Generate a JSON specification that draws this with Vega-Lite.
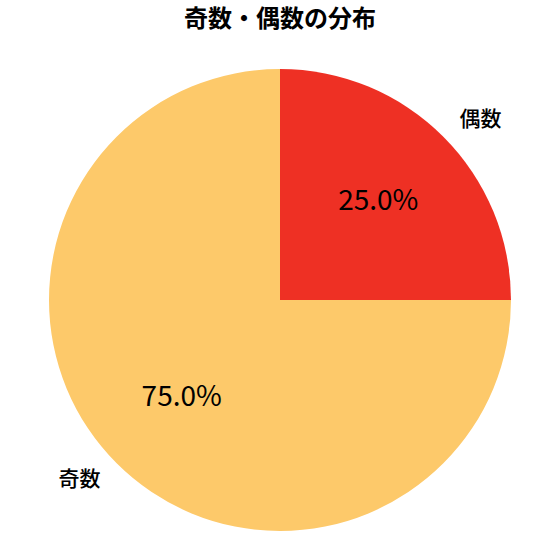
{
  "$schema": "https://vega.github.io/schema/vega-lite/v6.json",
  "width": 560,
  "height": 560,
  "autosize": {"type": "fit", "contains": "padding"},
  "padding": {"top": 8, "left": 0, "right": 0, "bottom": 0},
  "background": "white",
  "title": {
    "text": "奇数・偶数の分布",
    "font": "Noto Sans CJK JP",
    "fontSize": 24,
    "fontWeight": "bold",
    "color": "#000000",
    "anchor": "middle",
    "offset": 8
  },
  "data": {
    "values": [
      {"kind": "偶数", "value": 0.25},
      {"kind": "奇数", "value": 0.75}
    ]
  },
  "encoding": {
    "theta": {"field": "value", "type": "quantitative", "stack": true}
  },
  "layer": [
    {
      "mark": {"type": "arc", "outerRadius": 231},
      "encoding": {
        "color": {
          "field": "kind",
          "type": "nominal",
          "scale": {"domain": ["偶数", "奇数"], "range": ["#EE3024", "#FDC96A"]},
          "legend": null
        }
      }
    },
    {
      "mark": {"type": "text", "radius": 139, "font": "Noto Sans CJK JP", "fontSize": 28, "color": "#000000"},
      "encoding": {
        "detail": {"field": "kind", "type": "nominal"},
        "text": {"field": "value", "type": "quantitative", "format": ".1%"}
      }
    },
    {
      "mark": {"type": "text", "radius": 254, "align": "left", "font": "Noto Sans CJK JP", "fontSize": 21, "fontWeight": 500, "color": "#000000"},
      "encoding": {
        "detail": {"field": "kind", "type": "nominal"},
        "text": {"field": "kind", "type": "nominal"},
        "opacity": {"condition": {"test": "datum.kind === '偶数'", "value": 1}, "value": 0}
      }
    },
    {
      "mark": {"type": "text", "radius": 254, "align": "right", "font": "Noto Sans CJK JP", "fontSize": 21, "fontWeight": 500, "color": "#000000"},
      "encoding": {
        "detail": {"field": "kind", "type": "nominal"},
        "text": {"field": "kind", "type": "nominal"},
        "opacity": {"condition": {"test": "datum.kind === '奇数'", "value": 1}, "value": 0}
      }
    }
  ],
  "config": {"view": {"stroke": null}}
}
